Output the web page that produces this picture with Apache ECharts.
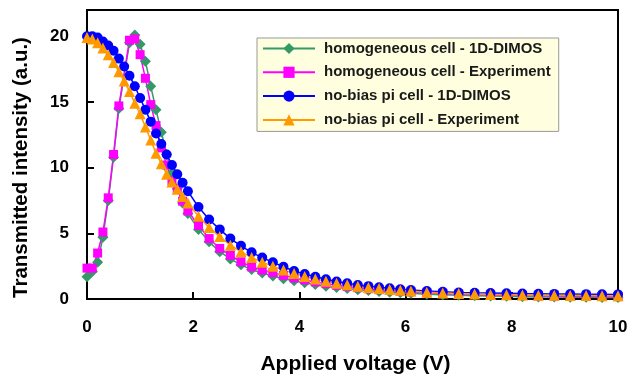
<!DOCTYPE html>
<html>
<head>
<meta charset="utf-8">
<script src="https://cdn.jsdelivr.net/npm/echarts@6/dist/echarts.min.js"></script>
<style>html,body{margin:0;padding:0;background:#fff}#c{width:638px;height:383px}</style>
</head>
<body>
<div id="c"></div>
<script>
const voltage = [0,0.1,0.2,0.3,0.4,0.5,0.6,0.7,0.8,0.9,1.0,1.1,1.2,1.3,1.4,1.5,1.6,1.7,1.8,1.9,
  2.1,2.3,2.5,2.7,2.9,3.1,3.3,3.5,3.7,3.9,4.1,4.3,4.5,4.7,4.9,5.1,5.3,5.5,5.7,5.9,6.1,
  6.4,6.7,7.0,7.3,7.6,7.9,8.2,8.5,8.8,9.1,9.4,9.7,10.0];
const homoSim = [1.7,2.1,2.8,4.7,7.5,10.8,14.5,null,19.5,20.1,19.4,18.1,16.2,14.4,12.7,11.0,9.6,8.4,7.3,6.5,
  5.3,4.35,3.6,3.05,2.6,2.25,1.97,1.75,1.55,1.38,1.23,1.1,0.98,0.88,0.79,0.71,0.64,0.57,0.52,0.47,0.43,
  0.37,0.32,0.28,0.25,0.22,0.2,0.18,0.16,0.15,0.14,0.13,0.12,0.11];
const homoExp = [2.35,2.35,3.5,5.1,7.7,11.0,14.7,null,19.7,19.8,18.6,16.8,14.8,13.2,11.5,10.2,9.0,8.4,7.45,6.7,
  5.6,4.6,3.85,3.33,2.83,2.45,2.2,2.0,1.8,1.6,1.45,1.3,1.17,1.05,0.95,0.86,0.78,0.71,0.65,0.6,0.55,
  0.48,0.42,0.38,0.34,0.31,0.28,0.26,0.24,0.22,0.21,0.2,0.19,0.18];
const noBiasSim = [20.0,20.0,19.9,19.6,19.3,18.9,18.3,17.7,17.0,16.2,15.3,14.4,13.5,12.6,11.8,11.0,10.2,9.5,8.85,8.2,
  7.0,6.05,5.3,4.6,4.05,3.55,3.15,2.8,2.45,2.13,1.9,1.7,1.5,1.33,1.2,1.07,0.98,0.89,0.81,0.74,0.68,
  0.6,0.55,0.5,0.47,0.45,0.43,0.41,0.4,0.39,0.38,0.37,0.36,0.35];
const noBiasExp = [19.9,19.8,19.5,19.1,18.6,18.0,17.3,16.6,15.8,14.9,14.1,13.1,12.1,11.1,10.3,9.5,8.9,8.35,7.8,7.3,
  6.3,5.45,4.75,4.1,3.6,3.15,2.8,2.5,2.2,1.95,1.72,1.52,1.35,1.2,1.08,0.97,0.88,0.8,0.72,0.66,0.6,
  0.52,0.46,0.42,0.38,0.35,0.33,0.31,0.29,0.28,0.27,0.26,0.25,0.24];
const seriesNames = ['homogeneous cell - 1D-DIMOS','homogeneous cell - Experiment','no-bias pi cell - 1D-DIMOS','no-bias pi cell - Experiment'];
const xTitle = 'Applied voltage (V)';
const yTitle = 'Transmitted intensity (a.u.)';

const pair = ys => voltage.map((v,i) => [v, ys[i]]);
const mk = (name, ys, color, symbol, size) => ({
  name, type:'line', data: pair(ys), connectNulls:true, symbol, symbolSize:size,
  lineStyle:{color, width:1.5}, itemStyle:{color}, animation:false
});
const FONT = 'Arial, "Liberation Sans", sans-serif';
const chart = echarts.init(document.getElementById('c'));
chart.setOption({
  backgroundColor:'#fff',
  animation:false,
  grid:{left:87, right:20, top:10, bottom:84, show:true, borderColor:'#000', borderWidth:2, backgroundColor:'transparent'},
  legend:{
    orient:'vertical', left:257, top:38, itemWidth:52, itemHeight:14, itemGap:8.8,
    padding:[3,8,4,5], backgroundColor:'#ffffe0', borderColor:'#999', borderWidth:1,
    textStyle:{fontFamily:FONT, fontWeight:'bold', fontSize:15, color:'#1a1a1a', padding:[0,0,0,4]},
    data: seriesNames
  },
  xAxis:{
    type:'value', min:0, max:10, interval:2,
    name:xTitle, nameLocation:'middle', nameGap:55,
    nameTextStyle:{fontFamily:FONT, fontWeight:'bold', fontSize:21, color:'#000', padding:[0,0,0,6]},
    axisLine:{lineStyle:{color:'#000', width:2}},
    axisTick:{inside:true, length:7, lineStyle:{color:'#000', width:2}},
    axisLabel:{fontFamily:FONT, fontWeight:'bold', fontSize:17, color:'#000', margin:20},
    splitLine:{show:false}
  },
  yAxis:{
    type:'value', min:0, max:22, interval:5,
    name:yTitle, nameLocation:'middle', nameGap:55,
    nameTextStyle:{fontFamily:FONT, fontWeight:'bold', fontSize:20.5, color:'#000', padding:[0,26,0,0]},
    axisLine:{lineStyle:{color:'#000', width:2}},
    axisTick:{inside:true, length:7, lineStyle:{color:'#000', width:2}},
    axisLabel:{fontFamily:FONT, fontWeight:'bold', fontSize:17, color:'#000', margin:18, showMaxLabel:false,
      formatter: v => (v % 5 === 0 ? String(v) : '')},
    splitLine:{show:false}
  },
  series:[
    mk(seriesNames[0], homoSim, '#339966', 'diamond', 11),
    mk(seriesNames[1], homoExp, '#ff00ff', 'rect', 9),
    mk(seriesNames[2], noBiasSim, '#0000ff', 'circle', 10),
    mk(seriesNames[3], noBiasExp, '#ff9900', 'triangle', 11)
  ]
});
</script>
</body>
</html>
